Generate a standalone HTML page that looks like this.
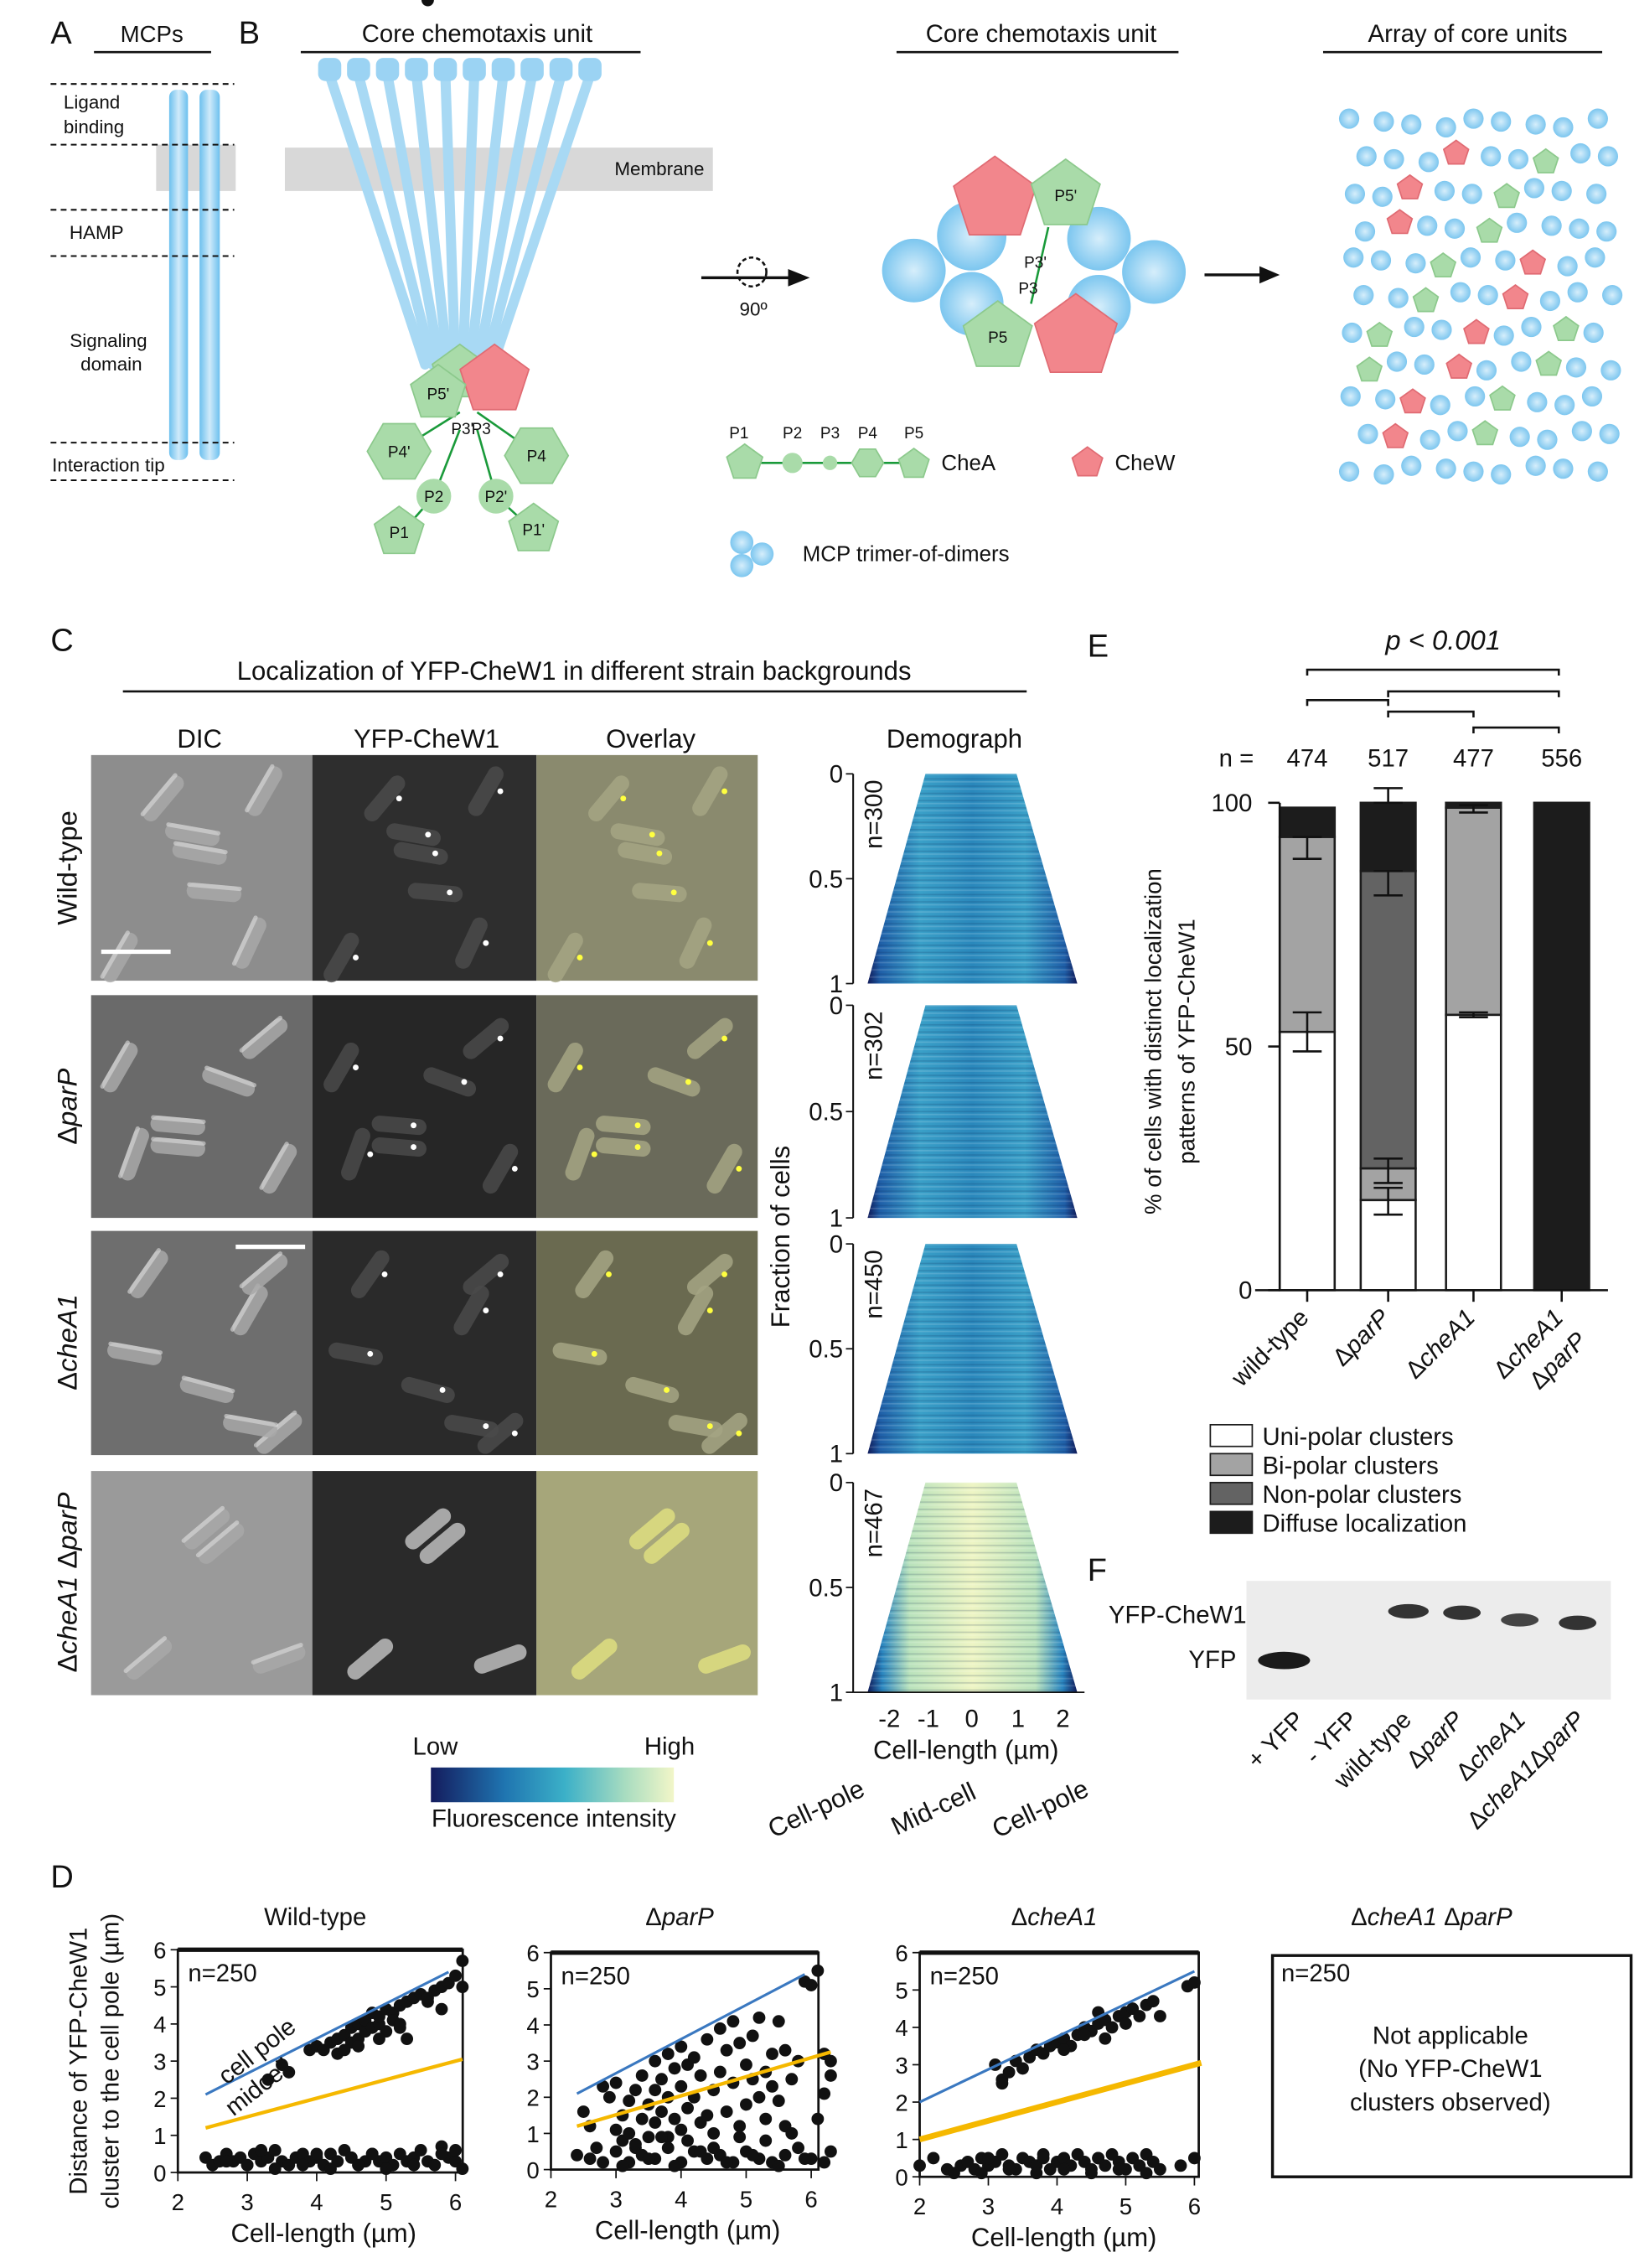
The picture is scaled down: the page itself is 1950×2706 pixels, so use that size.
<!DOCTYPE html>
<html><head><meta charset="utf-8"><style>
html,body{margin:0;padding:0;background:#fff}
svg{display:block}
text{font-family:"Liberation Sans",sans-serif;fill:#111}
</style></head><body>
<svg id="fig" width="1950" height="2706" viewBox="0 0 1130 1568" xmlns="http://www.w3.org/2000/svg">
<defs>
<linearGradient id="rod" x1="0" y1="0" x2="1" y2="0"><stop offset="0" stop-color="#6cc0ee"/><stop offset="0.5" stop-color="#cfeafa"/><stop offset="1" stop-color="#6cc0ee"/></linearGradient>
<radialGradient id="ball"><stop offset="0" stop-color="#d6eefb"/><stop offset="1" stop-color="#7cc6ef"/></radialGradient>
<linearGradient id="demo" x1="0" y1="0" x2="1" y2="0"><stop offset="0" stop-color="#101a5a"/><stop offset="0.06" stop-color="#1f5fa8"/><stop offset="0.25" stop-color="#3aa0c8"/><stop offset="0.5" stop-color="#2a88bc"/><stop offset="0.75" stop-color="#3aa0c8"/><stop offset="0.94" stop-color="#1f5fa8"/><stop offset="1" stop-color="#101a5a"/></linearGradient>
<linearGradient id="demo4" x1="0" y1="0" x2="1" y2="0"><stop offset="0" stop-color="#101a5a"/><stop offset="0.07" stop-color="#2a86c0"/><stop offset="0.2" stop-color="#b9e2bc"/><stop offset="0.5" stop-color="#eef5c4"/><stop offset="0.8" stop-color="#b9e2bc"/><stop offset="0.93" stop-color="#2a86c0"/><stop offset="1" stop-color="#101a5a"/></linearGradient>
<linearGradient id="cbar" x1="0" y1="0" x2="1" y2="0"><stop offset="0" stop-color="#141c5e"/><stop offset="0.3" stop-color="#1f74b0"/><stop offset="0.55" stop-color="#3bb0c8"/><stop offset="0.8" stop-color="#a8dcc0"/><stop offset="1" stop-color="#f2f6c8"/></linearGradient>
<pattern id="stripes" width="7" height="5" patternUnits="userSpaceOnUse"><rect width="7" height="1" fill="#ffffff" opacity="0.15"/><rect y="3" width="7" height="1" fill="#0a2050" opacity="0.18"/></pattern>
</defs>

<g>
<text x="35" y="30" font-size="22">A</text>
<text x="105" y="29" font-size="16" text-anchor="middle">MCPs</text>
<line x1="65" y1="36" x2="146" y2="36" stroke="#111" stroke-width="1.5"/>
<rect x="108" y="100" width="55" height="32" fill="#d8d8d8"/>
<rect x="117" y="62" width="13" height="256" rx="5" fill="url(#rod)"/>
<rect x="138" y="62" width="14" height="256" rx="5" fill="url(#rod)"/>
<g stroke="#111" stroke-width="1.2" stroke-dasharray="4,3">
<line x1="35" y1="58" x2="162" y2="58"/><line x1="35" y1="100" x2="162" y2="100"/><line x1="35" y1="145" x2="162" y2="145"/><line x1="35" y1="177" x2="162" y2="177"/><line x1="35" y1="306" x2="162" y2="306"/><line x1="35" y1="332" x2="162" y2="332"/>
</g>
<g font-size="13">
<text x="44" y="75">Ligand</text><text x="44" y="92">binding</text>
<text x="48" y="165">HAMP</text>
<text x="75" y="240" text-anchor="middle">Signaling</text><text x="77" y="256" text-anchor="middle">domain</text>
<text x="36" y="326">Interaction tip</text>
</g>
</g>

<g>
<text x="165" y="30" font-size="22">B</text>
<text x="330" y="29" font-size="17" text-anchor="middle">Core chemotaxis unit</text>
<line x1="208" y1="36" x2="443" y2="36" stroke="#111" stroke-width="1.5"/>
<rect x="197" y="102" width="296" height="30" fill="#d8d8d8"/>
<text x="456" y="121" font-size="13" text-anchor="middle">Membrane</text>
<g id="fan" stroke="#a8d9f4" stroke-width="7" stroke-linecap="round"></g>
<g id="fancaps" fill="#9bd3f3"></g>
<g stroke="#1a9a3a" stroke-width="1.5" fill="none">
<line x1="318" y1="285" x2="278" y2="310"/><line x1="330" y1="285" x2="370" y2="313"/>
<line x1="318" y1="297" x2="300" y2="343"/><line x1="330" y1="297" x2="343" y2="343"/>
<line x1="300" y1="343" x2="278" y2="368"/><line x1="343" y1="343" x2="368" y2="366"/>
</g>
<g id="bshapes"></g>
</g>

<g>
<text x="720" y="29" font-size="17" text-anchor="middle">Core chemotaxis unit</text>
<line x1="620" y1="36" x2="815" y2="36" stroke="#111" stroke-width="1.5"/>
<line x1="485" y1="192" x2="548" y2="192" stroke="#111" stroke-width="2"/>
<polygon points="560,192 545,186 545,198" fill="#111"/>
<circle cx="520" cy="188" r="10" fill="none" stroke="#111" stroke-width="1.5" stroke-dasharray="3,2"/>
<text x="521" y="218" font-size="13" text-anchor="middle">90º</text>
<g id="coreshapes"></g>
<line x1="833" y1="190" x2="875" y2="190" stroke="#111" stroke-width="2"/>
<polygon points="885,190 871,184 871,196" fill="#111"/>
<g id="legendB"></g>
<text x="651" y="325" font-size="15">CheA</text>
<text x="771" y="325" font-size="15">CheW</text>
<text x="555" y="388" font-size="15">MCP trimer-of-dimers</text>
</g>

<g>
<text x="1015" y="29" font-size="17" text-anchor="middle">Array of core units</text>
<line x1="915" y1="36" x2="1108" y2="36" stroke="#111" stroke-width="1.5"/>
<g id="arrayg"></g>
</g>

<g>
<text x="35" y="450" font-size="22">C</text>
<text x="397" y="470" font-size="18" text-anchor="middle">Localization of YFP-CheW1 in different strain backgrounds</text>
<line x1="85" y1="478" x2="710" y2="478" stroke="#111" stroke-width="1.5"/>
<text x="138" y="517" font-size="18" text-anchor="middle">DIC</text>
<text x="295" y="517" font-size="18" text-anchor="middle">YFP-CheW1</text>
<text x="450" y="517" font-size="18" text-anchor="middle">Overlay</text>
<text x="660" y="517" font-size="18" text-anchor="middle">Demograph</text>
<g id="micro"></g>
<g font-size="19">
<text transform="translate(53,600) rotate(-90)" text-anchor="middle">Wild-type</text>
<text transform="translate(53,765) rotate(-90)" text-anchor="middle">Δ<tspan font-style="italic">parP</tspan></text>
<text transform="translate(53,928) rotate(-90)" text-anchor="middle">Δ<tspan font-style="italic">cheA1</tspan></text>
<text transform="translate(53,1094) rotate(-90)" text-anchor="middle">Δ<tspan font-style="italic">cheA1</tspan> Δ<tspan font-style="italic">parP</tspan></text>
</g>
<line x1="70" y1="658" x2="118" y2="658" stroke="#fff" stroke-width="3"/>
<line x1="163" y1="862" x2="211" y2="862" stroke="#fff" stroke-width="3"/>
<g id="demog"></g>
<text transform="translate(546,855) rotate(-90)" font-size="18" text-anchor="middle">Fraction of cells</text>
<g font-size="17" text-anchor="middle">
<text x="615" y="1194">-2</text><text x="642" y="1194">-1</text><text x="672" y="1194">0</text><text x="704" y="1194">1</text><text x="735" y="1194">2</text>
</g>
<text x="668" y="1216" font-size="18" text-anchor="middle">Cell-length (µm)</text>
<text transform="translate(567,1256) rotate(-25)" font-size="18" text-anchor="middle">Cell-pole</text>
<text transform="translate(648,1256) rotate(-25)" font-size="18" text-anchor="middle">Mid-cell</text>
<text transform="translate(722,1256) rotate(-25)" font-size="18" text-anchor="middle">Cell-pole</text>
<rect x="298" y="1222" width="168" height="24" fill="url(#cbar)"/>
<text x="301" y="1213" font-size="17" text-anchor="middle">Low</text>
<text x="463" y="1213" font-size="17" text-anchor="middle">High</text>
<text x="383" y="1263" font-size="17" text-anchor="middle">Fluorescence intensity</text>
</g>

<g id="panelE">
<text x="752" y="454" font-size="22">E</text>
<text x="998" y="449" font-size="19" text-anchor="middle" font-style="italic">p &lt; 0.001</text>
<g stroke="#111" stroke-width="1.5" fill="none">
<polyline points="904,467 904,463 1078,463 1078,467"/>
<polyline points="904,488 904,484 960,484 960,488"/>
<polyline points="960,482 960,478 1078,478 1078,482"/>
<polyline points="960,496 960,492 1019,492 1019,496"/>
<polyline points="1019,507 1019,503 1078,503 1078,507"/>
</g>
<text x="855" y="530" font-size="17" text-anchor="middle">n =</text>
<g id="ecounts" font-size="17" text-anchor="middle"></g>
<text transform="translate(803,720) rotate(-90)" font-size="16" text-anchor="middle">% of cells with distinct localization</text>
<text transform="translate(826,720) rotate(-90)" font-size="16" text-anchor="middle">patterns of YFP-CheW1</text>
<g id="ebars"></g>
<g id="elegend" font-size="17"></g>
</g>

<g>
<text x="752" y="1093" font-size="22">F</text>
<rect x="862" y="1093" width="252" height="82" fill="#ececec"/>
<ellipse cx="888" cy="1148" rx="18" ry="6" fill="#1a1a1a"/>
<ellipse cx="974" cy="1114" rx="14" ry="5" fill="#333"/>
<ellipse cx="1011" cy="1115" rx="13" ry="5" fill="#333"/>
<ellipse cx="1051" cy="1120" rx="13" ry="4.5" fill="#444"/>
<ellipse cx="1091" cy="1122" rx="13" ry="5" fill="#333"/>
<text x="862" y="1122" font-size="17" text-anchor="end">YFP-CheW1</text>
<text x="855" y="1153" font-size="17" text-anchor="end">YFP</text>
<g font-size="17" text-anchor="end">
<text transform="translate(903,1190) rotate(-45)">+ YFP</text>
<text transform="translate(940,1190) rotate(-45)">- YFP</text>
<text transform="translate(977,1190) rotate(-45)">wild-type</text>
<text transform="translate(1013,1190) rotate(-45)">Δ<tspan font-style="italic">parP</tspan></text>
<text transform="translate(1056,1190) rotate(-45)">Δ<tspan font-style="italic">cheA1</tspan></text>
<text transform="translate(1097,1190) rotate(-45)">Δ<tspan font-style="italic">cheA1</tspan>Δ<tspan font-style="italic">parP</tspan></text>
</g>
</g>

<g id="panelD">
<text x="35" y="1305" font-size="22">D</text>
<text transform="translate(60,1425) rotate(-90)" font-size="17" text-anchor="middle">Distance of YFP-CheW1</text>
<text transform="translate(82,1425) rotate(-90)" font-size="17" text-anchor="middle">cluster to the cell pole (µm)</text>
<g id="dplots"></g>
<text x="990" y="1331" font-size="17" text-anchor="middle">Δ<tspan font-style="italic">cheA1</tspan> Δ<tspan font-style="italic">parP</tspan></text>
<rect x="880" y="1352" width="248" height="153" fill="none" stroke="#111" stroke-width="2"/>
<text x="886" y="1370" font-size="17">n=250</text>
<text x="1003" y="1413" font-size="17" text-anchor="middle">Not applicable</text>
<text x="1003" y="1436" font-size="17" text-anchor="middle">(No YFP-CheW1</text>
<text x="1003" y="1459" font-size="17" text-anchor="middle">clusters observed)</text>
</g>
</svg>
<script>
// ===== Panel E data =====
const eStrains = ["wild-type","ΔparP","ΔcheA1","ΔcheA1 ΔparP"];
const eCounts = [474,517,477,556];
const eUni = [53,18.5,56.5,0];
const eBi = [40,6.5,42.5,0];
const eNon = [0,61,0,0];
const eDiffuse = [6,14,1,100];
const eErrLow = [[49,88.5],[15.5,22,81,100],[56,98],[]];
const eErrHigh = [[57,93],[21,27,86,103],[57,99.5],[]];
const eTicks = [0,50,100];
// ===== Panel D data =====
const wtX = [3.5,3.6,3.9,4.0,4.1,4.2,4.3,4.3,4.4,4.5,4.5,4.6,4.6,4.7,4.7,4.8,4.8,4.9,4.9,5.0,5.0,5.1,5.1,5.2,5.2,5.3,5.3,5.4,5.5,5.6,5.7,5.8,5.9,6.0,6.1,6.1,4.4,4.9,5.2,4.6,5.6,5.8,3.3,
 2.4,2.5,2.6,2.7,2.8,2.9,3.0,3.1,3.2,3.3,3.4,3.5,3.6,3.7,3.8,3.9,4.0,4.1,4.2,4.3,4.4,4.5,4.6,4.7,4.8,4.9,5.0,5.1,5.2,5.3,5.4,5.5,5.6,5.7,5.8,5.9,6.0,6.1,2.7,3.0,3.4,3.8,4.2,4.6,5.0,5.4,5.8,6.0,3.2,4.0,4.8,5.6];
const wtY = [2.9,2.7,3.3,3.4,3.3,3.5,3.6,3.2,3.7,3.5,3.9,3.6,4.0,3.8,4.1,3.9,4.3,4.0,4.2,4.4,3.8,4.3,4.1,4.5,4.0,4.6,3.6,4.7,4.8,4.6,4.9,5.0,5.1,5.3,5.7,5.0,3.3,3.6,3.9,3.4,4.7,4.4,2.5,
 0.4,0.2,0.3,0.5,0.3,0.4,0.2,0.5,0.3,0.4,0.6,0.3,0.2,0.4,0.5,0.3,0.4,0.2,0.5,0.3,0.6,0.4,0.2,0.3,0.5,0.3,0.4,0.2,0.5,0.3,0.4,0.6,0.3,0.2,0.7,0.4,0.3,0.1,0.3,0.2,0.1,0.2,0.1,0.2,0.1,0.2,0.5,0.6,0.6,0.5,0.5];
const ppX = [2.4,2.5,2.6,2.7,2.8,2.9,3.0,3.0,3.1,3.1,3.2,3.2,3.3,3.3,3.4,3.4,3.5,3.5,3.6,3.6,3.6,3.7,3.7,3.8,3.8,3.8,3.9,3.9,4.0,4.0,4.0,4.1,4.1,4.2,4.2,4.3,4.3,4.4,4.4,4.5,4.5,4.6,4.6,4.7,4.7,4.8,4.8,4.9,4.9,5.0,5.0,5.1,5.1,5.2,5.2,5.3,5.3,5.4,5.4,5.5,5.5,5.6,5.6,5.7,5.8,5.9,6.0,6.1,6.1,6.2,6.2,6.3,6.3,
 2.6,2.8,3.0,3.2,3.4,3.6,3.8,4.0,4.2,4.4,4.6,4.8,5.0,5.2,5.4,5.6,5.8,6.0,6.2,3.1,3.5,3.9,4.3,4.7,5.1,5.5,5.9,6.3,3.3,3.7,4.1,4.5,4.9,5.3,5.7];
const ppY = [0.4,1.6,1.2,0.6,2.3,2.0,1.1,2.4,0.8,1.5,1.9,1.0,2.2,0.6,1.4,2.6,1.8,0.9,3.0,2.2,1.3,2.5,1.6,3.2,2.0,0.9,2.8,1.4,2.3,1.1,3.4,2.9,1.7,3.1,2.0,1.3,2.6,3.6,1.5,2.2,1.0,3.9,2.7,3.3,1.6,4.1,2.4,3.5,1.2,2.9,1.8,3.7,2.5,4.2,2.0,2.7,1.4,3.2,2.3,4.1,1.9,3.3,1.2,2.5,3.0,5.2,5.1,5.5,1.4,3.2,2.1,3.0,2.6,
 0.3,0.2,0.5,0.2,0.4,0.3,0.6,0.2,0.5,0.3,0.4,0.2,0.5,0.3,0.2,0.4,0.6,0.3,0.2,0.1,0.3,0.1,0.5,0.2,0.4,0.1,0.3,0.5,0.7,0.9,0.8,0.6,0.9,0.8,1.0];
const caX = [3.1,3.2,3.3,3.4,3.5,3.6,3.7,3.8,3.9,4.0,4.1,4.2,4.3,4.4,4.5,4.6,4.7,4.8,4.9,5.0,5.1,5.2,5.3,5.4,5.5,5.9,6.0,4.1,4.4,4.7,5.0,3.2,4.6,
 2.0,2.2,2.4,2.6,2.7,2.8,2.9,3.0,3.1,3.2,3.3,3.4,3.5,3.6,3.7,3.8,3.9,4.0,4.1,4.2,4.3,4.4,4.5,4.6,4.7,4.8,4.9,5.0,5.1,5.2,5.3,5.4,5.5,5.8,6.0,2.5,2.9,3.3,3.7,4.1,4.5,4.9,5.3,3.0,3.8,4.6];
const caY = [3.0,2.6,2.8,3.1,2.9,3.2,3.4,3.3,3.5,3.6,3.7,3.5,3.8,4.0,3.9,4.1,4.2,4.0,4.3,4.4,4.5,4.3,4.6,4.7,4.3,5.1,5.2,3.4,3.8,3.7,4.1,2.5,4.4,
 0.3,0.5,0.2,0.3,0.4,0.2,0.5,0.3,0.4,0.6,0.3,0.2,0.5,0.4,0.3,0.6,0.2,0.4,0.5,0.3,0.6,0.4,0.2,0.5,0.3,0.6,0.4,0.2,0.5,0.3,0.6,0.4,0.2,0.3,0.5,0.1,0.1,0.2,0.1,0.2,0.1,0.2,0.1,0.5,0.5,0.5];
const dTicksY = [0,1,2,3,4,5,6];
const dTicksX = [2,3,4,5,6];
const poleLine = [[2.4,2.1],[5.9,5.4]];
const midLine = [[2.4,1.2],[6.1,3.05]];

const NS="http://www.w3.org/2000/svg";
function mk(tag,attrs,parent,txt){const e=document.createElementNS(NS,tag);for(const k in attrs)e.setAttribute(k,attrs[k]);if(txt!==undefined)e.textContent=txt;parent.appendChild(e);return e;}

(function(){
 const fan=document.getElementById('fan'),caps=document.getElementById('fancaps');
 for(let i=0;i<10;i++){
  const tx=228+i*20, bx=294+i*5.2;
  mk('line',{x1:tx,y1:52,x2:bx,y2:252},fan);
  mk('rect',{x:tx-8,y:40,width:16,height:16,rx:5},caps);
 }
 const g=document.getElementById('bshapes');
 function pent(cx,cy,r,fill,stroke,label,parent){
  let p=[];for(let k=0;k<5;k++){const a=-Math.PI/2+k*2*Math.PI/5;p.push((cx+r*Math.cos(a)).toFixed(1)+','+(cy+r*Math.sin(a)).toFixed(1));}
  mk('polygon',{points:p.join(' '),fill:fill,stroke:stroke,'stroke-width':1},parent);
  if(label)mk('text',{x:cx,y:cy+4,'font-size':11,'text-anchor':'middle'},parent,label);
 }
 function hex(cx,cy,r,label,parent){
  let p=[];for(let k=0;k<6;k++){const a=k*Math.PI/3;p.push((cx+r*Math.cos(a)).toFixed(1)+','+(cy+r*Math.sin(a)).toFixed(1));}
  mk('polygon',{points:p.join(' '),fill:'#a9dba9',stroke:'#8cc98c'},parent);
  if(label)mk('text',{x:cx,y:cy+4,'font-size':11,'text-anchor':'middle'},parent,label);
 }
 pent(318,258,20,'#a9dba9','#8cc98c','',g);
 pent(342,263,25,'#f2868c','#e06b73','',g);
 pent(303,272,20,'#a9dba9','#8cc98c','P5\'',g);
 mk('text',{x:312,y:300,'font-size':11},g,'P3\'');mk('text',{x:326,y:300,'font-size':11},g,'P3');
 hex(276,312,22,'P4\'',g); hex(371,315,22,'P4',g);
 mk('circle',{cx:300,cy:343,r:12,fill:'#a9dba9'},g);mk('text',{x:300,y:347,'font-size':11,'text-anchor':'middle'},g,'P2');
 mk('circle',{cx:343,cy:343,r:12,fill:'#a9dba9'},g);mk('text',{x:343,y:347,'font-size':11,'text-anchor':'middle'},g,'P2\'');
 pent(276,368,18,'#a9dba9','#8cc98c','P1',g); pent(369,366,18,'#a9dba9','#8cc98c','P1\'',g);
 const c=document.getElementById('coreshapes');
 [[632,187,22],[672,163,24],[760,165,22],[798,188,22],[672,210,22],[760,212,22]].forEach(a=>mk('circle',{cx:a[0],cy:a[1],r:a[2],fill:'url(#ball)'},c));
 pent(688,138,30,'#f2868c','#e06b73','',c);
 pent(744,233,30,'#f2868c','#e06b73','',c);
 pent(737,135,25,'#a9dba9','#8cc98c','P5\'',c);
 pent(690,233,25,'#a9dba9','#8cc98c','P5',c);
 mk('line',{x1:725,y1:157,x2:713,y2:210,stroke:'#1a9a3a','stroke-width':1.5},c);
 mk('text',{x:716,y:185,'font-size':11,'text-anchor':'middle'},c,'P3\'');
 mk('text',{x:711,y:203,'font-size':11,'text-anchor':'middle'},c,'P3');
 const L=document.getElementById('legendB');
 mk('line',{x1:515,y1:320,x2:632,y2:320,stroke:'#1a9a3a','stroke-width':1.5},L);
 pent(515,320,13,'#a9dba9','#8cc98c','',L);
 mk('circle',{cx:548,cy:320,r:7,fill:'#a9dba9'},L);
 mk('circle',{cx:574,cy:320,r:5,fill:'#a9dba9'},L);
 hex(600,320,11,'',L);
 pent(632,321,11,'#a9dba9','#8cc98c','',L);
 [['P1',511],['P2',548],['P3',574],['P4',600],['P5',632]].forEach(a=>mk('text',{x:a[1],y:303,'font-size':11,'text-anchor':'middle'},L,a[0]));
 pent(752,320,11,'#f2868c','#e06b73','',L);
 mk('circle',{cx:513,cy:375,r:8,fill:'url(#ball)'},L);mk('circle',{cx:527,cy:383,r:8,fill:'url(#ball)'},L);mk('circle',{cx:513,cy:391,r:8,fill:'url(#ball)'},L);
 const A=document.getElementById('arrayg');
 for(let r=0;r<11;r++){for(let q=0;q<9;q++){
  const x=935+q*21+(r%2)*10+((r*7+q*3)%5)-2, y=82+r*24+((q*5+r)%4)*2;
  if((r+q)%3===1 && x>945 && x<1090 && y>95 && y<320){ if((r+q)%2) pent(x,y,9,'#a9dba9','#8cc98c','',A); else pent(x,y,9,'#f2868c','#e06b73','',A);}
  else mk('circle',{cx:x,cy:y,r:7,fill:'url(#ball)'},A);
 }}
})();

(function(){
 const g=document.getElementById('micro');
 const rows=[[522,678],[688,842],[851,1006],[1017,1172]];
 const cols=[[63,216],[216,371],[371,524]];
 const bg=[['#8d8d8d','#2e2e2e','#8a8a6e'],['#6a6a6a','#262626','#6a6a5a'],['#6e6e6e','#2a2a2a','#6a6a50'],['#9a9a9a','#2a2a2a','#a6a67a']];
 const cells=[[[50,30,-50],[70,55,10],[75,68,10],[85,95,5],[120,25,-60],[110,130,-65],[20,140,-60]],
 [[20,50,-60],[30,110,-70],[60,90,5],[60,105,5],[95,60,20],[120,30,-40],[130,120,-60]],
 [[40,30,-55],[110,55,-60],[120,30,-40],[80,110,15],[30,85,10],[130,140,-40],[110,135,10]],
 [[80,40,-40],[90,50,-40],[40,130,-40],[130,130,-20]]];
 rows.forEach((r,i)=>cols.forEach((c,j)=>{
  mk('rect',{x:c[0],y:r[0],width:c[1]-c[0],height:r[1]-r[0],fill:bg[i][j]},g);
  cells[i].forEach(ce=>{
   const cx=c[0]+ce[0],cy=r[0]+ce[1];
   const fill=j===0?'#a8a8a8':(j===1?(i===3?'#bdbdbd':'#4a4a4a'):(i===3?'#dede80':'#a4a484'));
   mk('rect',{x:cx-19,y:cy-5.5,width:38,height:11,rx:5.5,fill:fill,opacity:0.85,transform:`rotate(${ce[2]},${cx},${cy})`},g);
   if(j===0) mk('rect',{x:cx-19,y:cy-5.5,width:38,height:3,rx:1.5,fill:'#dcdcdc',opacity:0.6,transform:`rotate(${ce[2]},${cx},${cy})`},g);
   if(j>0 && i<3) mk('circle',{cx:cx+10,cy:cy,r:2,fill:j===1?'#fff':'#ffff40'},g);
  });
 }));
 const D=document.getElementById('demog');
 const dem=[[535,680,'n=300'],[695,842,'n=302'],[860,1005,'n=450'],[1025,1170,'n=467']];
 dem.forEach((d,i)=>{
  const t=d[0],b=d[1];
  mk('polygon',{points:`640,${t} 703,${t} 745,${b} 600,${b}`,fill:i===3?'url(#demo4)':'url(#demo)'},D);
  mk('polygon',{points:`640,${t} 703,${t} 745,${b} 600,${b}`,fill:'url(#stripes)'},D);
  mk('line',{x1:590,y1:t,x2:590,y2:b,stroke:'#111','stroke-width':1.2},D);
  [[0,'0'],[0.5,'0.5'],[1,'1']].forEach(v=>{const y=t+v[0]*(b-t);mk('line',{x1:585,y1:y,x2:590,y2:y,stroke:'#111'},D);mk('text',{x:583,y:y+6,'font-size':17,'text-anchor':'end'},D,v[1]);});
  mk('text',{transform:`translate(610,${t+28}) rotate(-90)`,'font-size':17,'text-anchor':'middle'},D,d[2]);
 });
 mk('line',{x1:590,y1:1170,x2:750,y2:1170,stroke:'#111'},D);
})();

(function(){
 const g=document.getElementById('ebars');
 const y0=892, k=3.37, x0=885;
 const sy=v=>y0-v*k;
 const cx=[904,960,1019,1080], w=38;
 const fills=['#ffffff','#a3a3a3','#636363','#1c1c1c'];
 const cnt=document.getElementById('ecounts');
 eCounts.forEach((n,i)=>mk('text',{x:cx[i],y:530},cnt,String(n)));
 eStrains.forEach((s,i)=>{
  let base=0;
  [eUni[i],eBi[i],eNon[i],eDiffuse[i]].forEach((v,j)=>{
   if(v<=0)return;
   const r=mk('rect',{x:cx[i]-w/2,y:sy(base+v),width:w,height:v*k,fill:fills[j],stroke:'#1c1c1c','stroke-width':1.5},g);
   
   
   base+=v;
  });
  eErrLow[i].forEach((lo,m)=>{
   const hi=eErrHigh[i][m];
   mk('line',{x1:cx[i],y1:sy(lo),x2:cx[i],y2:sy(hi),stroke:'#111','stroke-width':1.5},g);
   mk('line',{x1:cx[i]-10,y1:sy(lo),x2:cx[i]+10,y2:sy(lo),stroke:'#111','stroke-width':1.5},g);
   mk('line',{x1:cx[i]-10,y1:sy(hi),x2:cx[i]+10,y2:sy(hi),stroke:'#111','stroke-width':1.5},g);
  });
  mk('line',{x1:cx[i],y1:y0,x2:cx[i],y2:y0+8,stroke:'#111','stroke-width':1.5},g);
 });
 mk('line',{x1:x0,y1:sy(0),x2:x0,y2:sy(100),stroke:'#111','stroke-width':1.5},g);
 mk('line',{x1:868,y1:y0,x2:1112,y2:y0,stroke:'#111','stroke-width':1.5},g);
 eTicks.forEach(t=>{mk('line',{x1:877,y1:sy(t),x2:x0,y2:sy(t),stroke:'#111','stroke-width':1.5},g);mk('text',{x:866,y:sy(t)+6,'font-size':17,'text-anchor':'end'},g,String(t));});
 const lab=[['wild-type'],['Δ','parP'],['Δ','cheA1'],['Δ','cheA1']];
 lab.forEach((l,i)=>{
  const t=mk('text',{transform:`translate(${cx[i]+2},${912}) rotate(-45)`,'font-size':17,'text-anchor':'end'},g);
  if(l.length===1)t.textContent=l[0];else{t.appendChild(document.createTextNode(l[0]));mk('tspan',{'font-style':'italic'},t,l[1]);}
 });
 const t2=mk('text',{transform:`translate(1098,928) rotate(-45)`,'font-size':17,'text-anchor':'end'},g);
 t2.appendChild(document.createTextNode('Δ'));mk('tspan',{'font-style':'italic'},t2,'parP');
 const L=document.getElementById('elegend');
 const names=['Uni-polar clusters','Bi-polar clusters','Non-polar clusters','Diffuse localization'];
 names.forEach((n,j)=>{
  mk('rect',{x:837,y:985+j*20,width:29,height:15,fill:fills[j],stroke:'#1c1c1c'},L);
  mk('text',{x:873,y:999+j*20},L,n);
 });
})();

(function(){
 const g=document.getElementById('dplots');
 const cfg=[{x2:123,x6:315,right:320,y0:1502,y6:1348,X:wtX,Y:wtY,t:['Wild-type'],tx:218},
            {x2:381,x6:561,right:566,y0:1500,y6:1350,X:ppX,Y:ppY,t:['Δ','parP'],tx:470},
            {x2:636,x6:826,right:829,y0:1505,y6:1350,X:caX,Y:caY,t:['Δ','cheA1'],tx:729}];
 cfg.forEach((c,i)=>{
  const sx=v=>c.x2+(v-2)*(c.x6-c.x2)/4, sy=v=>c.y0-v*(c.y0-c.y6)/6;
  const p=mk('g',{},g);
  
  
  mk('rect',{x:c.x2,y:sy(6),width:c.right-c.x2,height:c.y0-sy(6),fill:'none',stroke:'#111','stroke-width':1.6},p);
  mk('line',{x1:c.x2,y1:sy(6),x2:c.right,y2:sy(6),stroke:'#111','stroke-width':3},p);
  dTicksY.forEach(t=>{mk('line',{x1:c.x2-5,y1:sy(t),x2:c.x2,y2:sy(t),stroke:'#111'},p);mk('text',{x:c.x2-8,y:sy(t)+6,'font-size':16,'text-anchor':'end'},p,String(t));});
  dTicksX.forEach(t=>{mk('line',{x1:sx(t),y1:c.y0,x2:sx(t),y2:c.y0+6,stroke:'#111'},p);mk('text',{x:sx(t),y:c.y0+26,'font-size':16,'text-anchor':'middle'},p,String(t));});
  mk('text',{x:sx(4.1),y:c.y0+48,'font-size':18,'text-anchor':'middle'},p,'Cell-length (µm)');
  const tt=mk('text',{x:c.tx,y:1331,'font-size':17,'text-anchor':'middle'},p);
  if(c.t.length===1)tt.textContent=c.t[0];else{tt.appendChild(document.createTextNode(c.t[0]));mk('tspan',{'font-style':'italic'},tt,c.t[1]);}
  mk('text',{x:c.x2+7,y:sy(6)+22,'font-size':17},p,'n=250');
  c.X.forEach((x,k)=>{
   const d=mk('circle',{cx:sx(x),cy:sy(c.Y[k]),r:4.3,fill:'#111'},p);
   
   
  });
  const mx2=i===1?6.3:midLine[1][0], my2=i===1?3.25:midLine[1][1];
  const pl=mk('line',{x1:sx(i===2?2.0:poleLine[0][0]),y1:sy(i===2?2.0:poleLine[0][1]),x2:sx(poleLine[1][0]+(i===2?0.1:0)),y2:sy(poleLine[1][1]+(i===2?0.1:0)),stroke:'#3a78c0','stroke-width':1.8},p);
  
  
  const ml=mk('line',{x1:sx(i===2?2.0:midLine[0][0]),y1:sy(i===2?1.0:midLine[0][1]),x2:sx(mx2),y2:sy(my2),stroke:'#f5b800','stroke-width':i===2?4:2.5},p);
  
  
  if(i===0){
   mk('text',{transform:`translate(${sx(2.7)},${sy(2.35)}) rotate(-38)`,'font-size':17},p,'cell pole');
   mk('text',{transform:`translate(${sx(2.8)},${sy(1.5)}) rotate(-38)`,'font-size':17},p,'midcell');
  }
 });
})();
</script>
</body></html>
